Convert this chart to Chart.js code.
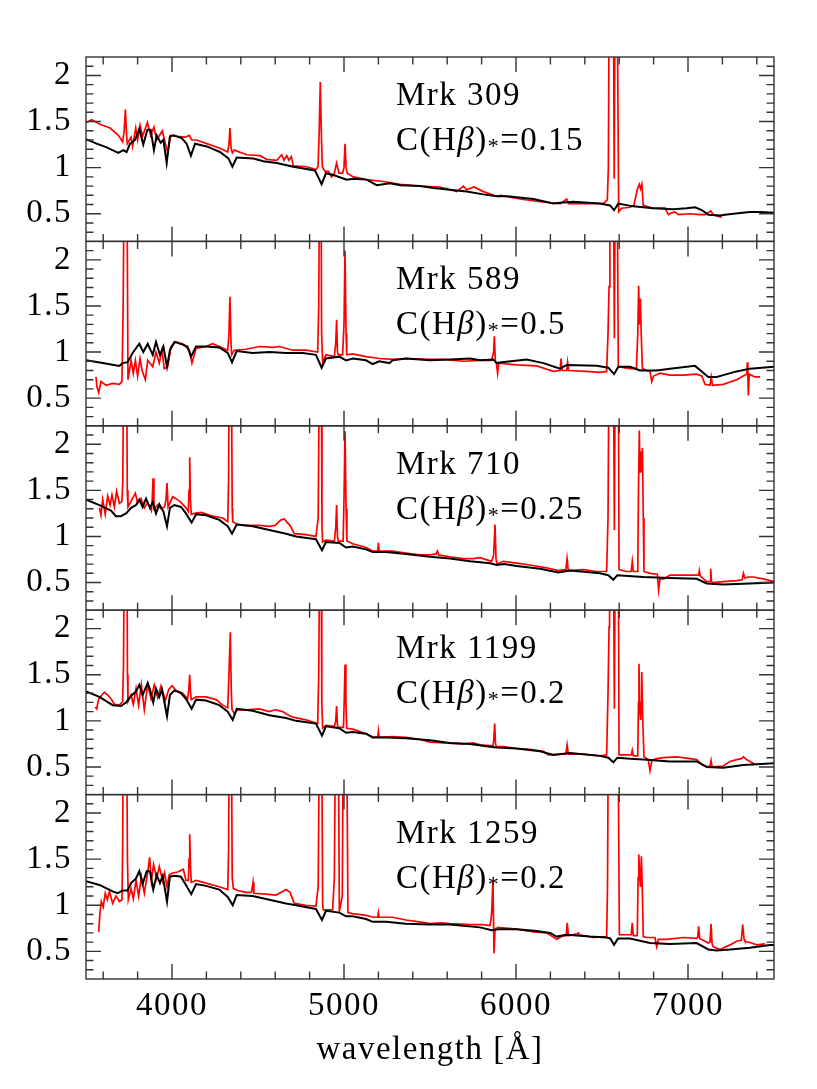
<!DOCTYPE html>
<html>
<head>
<meta charset="utf-8">
<script src="https://cdn.jsdelivr.net/npm/chart.js@4.4.0/dist/chart.umd.min.js"></script>
<style>
  html, body { margin: 0; padding: 0; background: #fff; }
  canvas { display: block; }
</style>
</head>
<body>
<canvas id="spectra" width="817" height="1089"></canvas>
<script>
// panel names and the extinction of the fitted population
const galaxies = ['Mrk 309', 'Mrk 589', 'Mrk 710', 'Mrk 1199', 'Mrk 1259'];
const extinction = ['0.15', '0.5', '0.25', '0.2', '0.2'];

const xTickValues = [4000, 5000, 6000, 7000];
const yTickValues = [0.5, 1, 1.5, 2];

// [wavelength, flux]; 3 = line runs off the top
const obs309 = [[3504,1.49],[3533,1.52],[3581,1.47],[3640,1.43],[3688,1.35],[3713,1.28],[3722,1.40],[3729,1.63],[3736,1.35],[3740,1.26],[3762,1.33],[3771,1.23],[3789,1.43],[3800,1.30],[3814,1.46],[3829,1.34],[3857,1.49],[3876,1.35],[3895,1.44],[3911,1.30],[3944,1.40],[3959,1.28],[3975,1.16],[3992,1.35],[4027,1.34],[4076,1.33],[4101,1.35],[4114,1.30],[4143,1.30],[4202,1.26],[4279,1.21],[4324,1.17],[4331,1.25],[4337,1.43],[4343,1.22],[4351,1.16],[4362,1.19],[4434,1.14],[4512,1.13],[4550,1.09],[4609,1.08],[4638,1.14],[4651,1.08],[4667,1.13],[4680,1.08],[4694,1.12],[4705,1.02],[4783,1.01],[4837,0.98],[4849,1.01],[4856,1.40],[4862,1.93],[4868,1.40],[4874,1.01],[4889,0.96],[4909,0.96],[4928,0.90],[4944,0.94],[4957,1.05],[4971,0.94],[4992,0.94],[5000,1.00],[5006,1.26],[5012,1.00],[5019,0.94],[5054,0.90],[5132,0.87],[5229,0.85],[5326,0.82],[5442,0.80],[5558,0.79],[5655,0.74],[5694,0.80],[5713,0.76],[5756,0.79],[5810,0.74],[5888,0.69],[5910,0.70],[6023,0.66],[6140,0.63],[6256,0.61],[6295,0.66],[6305,0.61],[6411,0.61],[6508,0.61],[6531,0.65],[6537,1.00],[6542,3],[6566,3],[6571,0.88],[6576,3],[6588,3],[6597,0.52],[6614,0.56],[6663,0.57],[6685,0.59],[6705,0.76],[6717,0.82],[6724,0.77],[6732,0.82],[6740,0.59],[6798,0.56],[6866,0.56],[6886,0.49],[6905,0.51],[6924,0.52],[6944,0.49],[7012,0.50],[7070,0.49],[7100,0.49],[7132,0.53],[7148,0.49],[7196,0.46]];
const mod309 = [[3500,1.31],[3562,1.26],[3620,1.22],[3688,1.16],[3717,1.19],[3736,1.17],[3756,1.26],[3785,1.30],[3810,1.42],[3833,1.25],[3857,1.41],[3876,1.41],[3895,1.19],[3911,1.35],[3934,1.27],[3950,1.30],[3969,1.05],[3988,1.34],[4008,1.35],[4056,1.32],[4085,1.26],[4110,1.13],[4134,1.26],[4202,1.23],[4279,1.17],[4328,1.10],[4351,1.01],[4376,1.11],[4473,1.10],[4531,1.07],[4609,1.05],[4705,1.01],[4831,0.97],[4870,0.82],[4895,0.94],[4938,0.92],[5016,0.87],[5054,0.88],[5132,0.87],[5190,0.81],[5267,0.83],[5326,0.81],[5442,0.80],[5519,0.78],[5616,0.76],[5713,0.74],[5810,0.71],[5888,0.69],[5950,0.69],[6101,0.66],[6217,0.61],[6260,0.62],[6333,0.63],[6488,0.61],[6547,0.59],[6570,0.54],[6595,0.61],[6682,0.58],[6798,0.56],[6915,0.55],[6992,0.56],[7041,0.57],[7080,0.54],[7118,0.49],[7186,0.48],[7215,0.49],[7264,0.50],[7360,0.52],[7419,0.52],[7500,0.51]];

const obs589 = [[3558,0.73],[3564,0.62],[3574,0.56],[3587,0.68],[3616,0.64],[3655,0.66],[3694,0.65],[3709,0.68],[3716,1.50],[3722,3],[3738,3],[3744,0.70],[3762,0.91],[3775,0.77],[3787,0.91],[3800,0.74],[3814,0.93],[3826,0.80],[3845,0.70],[3859,0.91],[3888,0.84],[3907,1.00],[3926,0.88],[3942,1.02],[3955,0.82],[3975,0.84],[3994,1.06],[4023,1.11],[4062,1.09],[4101,1.02],[4116,0.88],[4140,1.04],[4198,1.06],[4236,1.09],[4275,1.06],[4324,1.02],[4331,1.20],[4337,1.60],[4343,1.10],[4347,0.97],[4362,1.02],[4430,1.03],[4508,1.06],[4585,1.05],[4624,1.06],[4702,1.02],[4779,1.02],[4847,1.00],[4853,1.50],[4858,3],[4866,3],[4870,1.20],[4876,0.88],[4895,0.97],[4944,0.95],[4952,1.10],[4957,1.35],[4962,1.00],[4967,0.97],[4992,0.97],[5000,1.30],[5006,2.10],[5012,1.20],[5016,0.97],[5050,0.98],[5128,0.95],[5205,0.93],[5283,0.92],[5360,0.93],[5500,0.92],[5578,0.92],[5694,0.90],[5791,0.91],[5858,0.91],[5870,1.00],[5874,1.17],[5880,0.90],[5886,0.88],[5893,0.77],[5900,0.88],[6004,0.86],[6120,0.85],[6217,0.79],[6256,0.80],[6262,0.93],[6268,0.80],[6295,0.80],[6300,0.89],[6306,0.80],[6411,0.79],[6488,0.78],[6527,0.79],[6535,1.20],[6541,1.71],[6546,3],[6566,3],[6572,1.15],[6577,3],[6588,3],[6595,0.84],[6663,0.82],[6700,0.82],[6708,1.20],[6713,1.72],[6718,1.30],[6723,1.58],[6728,1.20],[6735,0.82],[6760,0.80],[6779,0.79],[6789,0.68],[6800,0.74],[6837,0.77],[6895,0.75],[6973,0.75],[7050,0.76],[7080,0.74],[7099,0.65],[7128,0.64],[7135,0.73],[7142,0.64],[7205,0.65],[7283,0.70],[7331,0.75],[7342,0.76],[7345,0.89],[7348,0.75],[7351,0.53],[7356,0.76],[7389,0.73],[7419,0.73]];
const mod589 = [[3500,0.91],[3597,0.88],[3694,0.85],[3713,0.88],[3742,0.89],[3771,0.99],[3810,1.09],[3833,1.00],[3859,1.09],[3888,0.97],[3907,1.11],[3930,0.97],[3950,1.06],[3971,0.84],[3988,1.02],[4014,1.11],[4062,1.08],[4090,1.06],[4110,0.95],[4140,1.06],[4198,1.06],[4275,1.05],[4324,0.99],[4349,0.89],[4376,1.01],[4469,0.99],[4566,1.00],[4663,0.99],[4760,0.99],[4837,0.97],[4870,0.83],[4895,0.93],[4973,0.95],[5012,0.91],[5050,0.93],[5128,0.91],[5167,0.87],[5205,0.90],[5264,0.88],[5283,0.91],[5360,0.93],[5500,0.91],[5616,0.92],[5733,0.93],[5791,0.91],[5868,0.92],[5888,0.88],[5917,0.89],[6062,0.92],[6159,0.88],[6256,0.82],[6295,0.86],[6469,0.85],[6537,0.83],[6570,0.76],[6595,0.84],[6663,0.84],[6721,0.80],[6818,0.80],[6895,0.82],[7041,0.85],[7118,0.73],[7167,0.73],[7205,0.75],[7283,0.79],[7360,0.82],[7500,0.84]];

const obs710 = [[3578,1.31],[3587,1.23],[3597,1.40],[3612,1.24],[3626,1.44],[3640,1.34],[3651,1.45],[3665,1.32],[3678,1.49],[3694,1.36],[3709,1.38],[3714,1.60],[3719,3],[3736,3],[3740,1.50],[3744,1.32],[3762,1.38],[3787,1.47],[3800,1.36],[3820,1.41],[3839,1.31],[3859,1.37],[3880,1.28],[3885,1.40],[3890,1.63],[3895,1.30],[3917,1.34],[3936,1.30],[3957,1.32],[3965,1.40],[3971,1.58],[3977,1.32],[4004,1.43],[4023,1.41],[4052,1.37],[4081,1.31],[4095,1.27],[4099,1.50],[4103,1.86],[4107,1.40],[4112,1.24],[4130,1.25],[4169,1.26],[4236,1.22],[4295,1.20],[4324,1.16],[4329,1.60],[4333,3],[4345,3],[4350,1.30],[4353,1.16],[4382,1.13],[4430,1.12],[4508,1.12],[4566,1.11],[4600,1.12],[4634,1.18],[4653,1.19],[4670,1.15],[4686,1.12],[4711,1.03],[4779,1.02],[4837,1.00],[4850,1.20],[4857,3],[4868,3],[4872,1.10],[4876,0.94],[4895,0.96],[4944,0.95],[4952,1.10],[4957,1.34],[4962,1.00],[4967,0.95],[4995,0.95],[5000,1.40],[5006,2.14],[5012,1.30],[5017,0.95],[5050,0.92],[5128,0.88],[5171,0.84],[5196,0.84],[5200,0.93],[5204,0.84],[5283,0.84],[5360,0.82],[5438,0.80],[5500,0.80],[5536,0.81],[5543,0.84],[5550,0.80],[5616,0.78],[5694,0.76],[5752,0.76],[5790,0.77],[5859,0.73],[5870,0.80],[5878,1.13],[5884,0.75],[5890,0.70],[5926,0.73],[6004,0.71],[6081,0.69],[6178,0.66],[6246,0.63],[6290,0.64],[6297,0.76],[6304,0.63],[6391,0.64],[6469,0.62],[6527,0.62],[6535,1.20],[6541,3],[6566,3],[6572,1.07],[6577,3],[6595,3],[6599,0.64],[6643,0.62],[6670,0.62],[6676,0.73],[6682,0.62],[6708,0.62],[6712,1.50],[6717,2.15],[6721,1.70],[6725,1.92],[6730,1.70],[6735,1.96],[6740,1.20],[6744,0.62],[6779,0.60],[6822,0.59],[6829,0.42],[6837,0.54],[6860,0.54],[6895,0.58],[6973,0.58],[7050,0.58],[7062,0.58],[7066,0.63],[7072,0.57],[7109,0.51],[7128,0.51],[7132,0.65],[7137,0.51],[7143,0.50],[7205,0.51],[7283,0.52],[7315,0.53],[7322,0.60],[7330,0.55],[7350,0.56],[7380,0.56],[7438,0.54],[7500,0.51]];
const mod710 = [[3500,1.40],[3578,1.34],[3645,1.28],[3674,1.22],[3703,1.22],[3733,1.25],[3762,1.31],[3791,1.34],[3810,1.40],[3829,1.32],[3849,1.41],[3872,1.31],[3888,1.37],[3907,1.25],[3926,1.35],[3950,1.27],[3971,1.11],[3988,1.31],[4014,1.34],[4052,1.32],[4081,1.25],[4114,1.15],[4140,1.24],[4198,1.23],[4275,1.18],[4324,1.11],[4349,1.03],[4376,1.13],[4469,1.11],[4566,1.07],[4663,1.03],[4721,1.00],[4837,0.97],[4872,0.85],[4895,0.94],[4973,0.93],[5012,0.88],[5050,0.89],[5128,0.86],[5167,0.83],[5244,0.83],[5360,0.81],[5500,0.78],[5616,0.76],[5733,0.73],[5849,0.71],[5888,0.69],[5930,0.70],[6004,0.68],[6140,0.65],[6246,0.61],[6314,0.63],[6488,0.60],[6537,0.58],[6566,0.53],[6589,0.58],[6740,0.56],[6895,0.55],[7050,0.54],[7109,0.49],[7205,0.48],[7360,0.49],[7500,0.50]];

const obs1199 = [[3554,1.15],[3562,1.13],[3574,1.24],[3587,1.27],[3607,1.31],[3626,1.28],[3645,1.24],[3665,1.18],[3694,1.17],[3713,1.21],[3718,1.60],[3723,3],[3738,3],[3741,1.50],[3744,1.21],[3762,1.28],[3775,1.18],[3791,1.35],[3806,1.17],[3822,1.39],[3839,1.12],[3859,1.40],[3878,1.24],[3897,1.39],[3917,1.25],[3936,1.38],[3961,1.22],[3981,1.34],[4000,1.38],[4023,1.33],[4062,1.30],[4091,1.24],[4098,1.35],[4103,1.50],[4108,1.30],[4112,1.23],[4140,1.26],[4198,1.26],[4256,1.23],[4295,1.17],[4324,1.14],[4331,1.50],[4339,1.96],[4345,1.30],[4349,1.12],[4362,1.08],[4382,1.12],[4430,1.12],[4508,1.13],[4566,1.10],[4600,1.12],[4643,1.10],[4670,1.07],[4702,1.04],[4779,1.01],[4847,0.97],[4853,1.50],[4859,3],[4867,3],[4871,1.20],[4876,0.92],[4895,0.95],[4944,0.94],[4952,1.00],[4957,1.16],[4962,0.95],[4967,0.93],[4997,0.93],[5001,1.20],[5006,1.61],[5011,1.20],[5016,0.92],[5050,0.91],[5128,0.86],[5171,0.82],[5196,0.83],[5200,0.89],[5204,0.82],[5283,0.83],[5360,0.82],[5438,0.80],[5500,0.77],[5578,0.76],[5694,0.75],[5752,0.76],[5791,0.74],[5866,0.73],[5871,0.80],[5876,0.97],[5881,0.75],[5886,0.72],[5926,0.72],[6004,0.70],[6081,0.69],[6159,0.67],[6188,0.63],[6256,0.64],[6290,0.64],[6297,0.74],[6304,0.64],[6391,0.64],[6488,0.62],[6527,0.63],[6535,1.30],[6541,2.02],[6544,3],[6566,3],[6572,1.13],[6577,3],[6595,3],[6599,0.63],[6663,0.63],[6670,0.63],[6676,0.68],[6682,0.62],[6708,0.62],[6712,1.20],[6715,1.62],[6720,1.10],[6725,1.01],[6728,1.20],[6731,1.53],[6737,1.00],[6744,0.61],[6769,0.58],[6779,0.46],[6790,0.57],[6818,0.59],[6857,0.60],[6934,0.61],[7012,0.59],[7050,0.58],[7079,0.53],[7109,0.50],[7128,0.51],[7134,0.57],[7140,0.50],[7205,0.51],[7244,0.56],[7283,0.58],[7310,0.59],[7322,0.61],[7340,0.58],[7360,0.56],[7389,0.53]];
const mod1199 = [[3500,1.32],[3578,1.26],[3655,1.17],[3703,1.16],[3733,1.20],[3762,1.27],[3791,1.32],[3810,1.39],[3829,1.28],[3859,1.41],[3872,1.34],[3891,1.20],[3907,1.35],[3926,1.26],[3942,1.34],[3971,1.05],[3988,1.28],[4014,1.33],[4052,1.30],[4081,1.24],[4114,1.13],[4140,1.23],[4198,1.22],[4275,1.17],[4324,1.10],[4353,1.01],[4376,1.13],[4469,1.11],[4566,1.06],[4663,1.03],[4721,1.00],[4837,0.97],[4872,0.84],[4895,0.94],[4973,0.92],[5012,0.87],[5050,0.88],[5128,0.86],[5167,0.82],[5244,0.82],[5360,0.81],[5500,0.79],[5616,0.76],[5733,0.75],[5849,0.72],[5888,0.71],[6004,0.70],[6140,0.67],[6217,0.63],[6314,0.65],[6488,0.62],[6537,0.60],[6566,0.55],[6589,0.60],[6663,0.59],[6740,0.58],[6895,0.56],[7050,0.56],[7109,0.50],[7205,0.49],[7322,0.52],[7399,0.53],[7500,0.54]];

const obs1259 = [[3574,0.71],[3581,0.91],[3589,1.04],[3600,0.98],[3612,1.13],[3624,1.06],[3636,1.15],[3655,1.02],[3674,1.10],[3694,1.04],[3709,1.06],[3713,1.60],[3717,3],[3736,3],[3741,1.50],[3746,1.06],[3762,1.18],[3775,1.07],[3791,1.27],[3806,1.10],[3822,1.31],[3839,1.13],[3859,1.36],[3870,1.52],[3880,1.26],[3893,1.44],[3911,1.29],[3926,1.42],[3946,1.26],[3957,1.35],[3971,1.20],[3984,1.33],[4004,1.35],[4033,1.36],[4066,1.39],[4081,1.27],[4095,1.27],[4099,1.50],[4103,1.77],[4108,1.40],[4112,1.25],[4140,1.27],[4198,1.24],[4275,1.20],[4324,1.17],[4329,1.60],[4333,3],[4345,3],[4350,1.30],[4357,1.18],[4382,1.16],[4430,1.14],[4462,1.14],[4467,1.20],[4471,1.25],[4476,1.13],[4547,1.12],[4605,1.11],[4643,1.15],[4663,1.17],[4686,1.14],[4711,1.02],[4779,1.00],[4837,0.99],[4850,1.20],[4857,3],[4870,3],[4876,1.00],[4880,0.95],[4934,0.95],[4944,1.30],[4951,3],[4967,3],[4973,0.93],[4990,1.10],[4996,3],[5015,3],[5023,0.92],[5050,0.91],[5128,0.89],[5171,0.87],[5196,0.87],[5200,0.92],[5204,0.87],[5283,0.87],[5360,0.84],[5438,0.82],[5500,0.80],[5560,0.81],[5616,0.80],[5733,0.79],[5810,0.79],[5849,0.78],[5858,0.90],[5866,1.28],[5872,0.48],[5878,0.74],[5895,0.76],[6004,0.74],[6101,0.71],[6178,0.70],[6236,0.63],[6275,0.67],[6292,0.67],[6298,0.81],[6304,0.67],[6356,0.69],[6362,0.70],[6368,0.68],[6449,0.65],[6527,0.66],[6532,1.20],[6537,3],[6593,3],[6601,0.68],[6663,0.68],[6670,0.68],[6676,0.81],[6682,0.67],[6705,0.67],[6710,1.30],[6714,1.55],[6719,1.30],[6724,1.20],[6729,1.53],[6734,1.20],[6740,0.66],[6760,0.65],[6808,0.65],[6818,0.55],[6828,0.63],[6876,0.63],[6973,0.65],[7050,0.64],[7056,0.65],[7062,0.77],[7068,0.64],[7118,0.59],[7128,0.60],[7134,0.80],[7140,0.58],[7147,0.55],[7186,0.52],[7244,0.57],[7283,0.61],[7310,0.62],[7318,0.79],[7326,0.63],[7331,0.61],[7370,0.59],[7399,0.57],[7448,0.58]];
const mod1259 = [[3500,1.26],[3578,1.22],[3655,1.15],[3684,1.13],[3713,1.16],[3742,1.16],[3762,1.24],[3791,1.29],[3810,1.37],[3829,1.23],[3853,1.37],[3872,1.37],[3891,1.17],[3911,1.33],[3930,1.24],[3946,1.32],[3971,1.04],[3988,1.31],[4014,1.32],[4052,1.31],[4081,1.22],[4112,1.12],[4140,1.23],[4198,1.21],[4275,1.17],[4324,1.09],[4353,1.00],[4376,1.11],[4469,1.10],[4566,1.06],[4663,1.02],[4721,1.00],[4837,0.96],[4872,0.84],[4895,0.94],[4973,0.92],[5012,0.88],[5050,0.88],[5128,0.85],[5167,0.82],[5244,0.82],[5360,0.80],[5500,0.79],[5616,0.79],[5791,0.76],[5859,0.73],[5900,0.74],[6004,0.74],[6120,0.72],[6198,0.70],[6236,0.66],[6295,0.68],[6430,0.66],[6527,0.65],[6548,0.64],[6570,0.57],[6593,0.64],[6663,0.64],[6779,0.59],[6895,0.58],[7050,0.59],[7118,0.52],[7167,0.51],[7244,0.52],[7360,0.54],[7477,0.57],[7500,0.57]];

const observed = [obs309, obs589, obs710, obs1199, obs1259];
const models = [mod309, mod589, mod710, mod1199, mod1259];

const serif = '"Liberation Serif", "DejaVu Serif", serif';
const toPoints = arr => arr.map(([x, y]) => ({ x, y }));

const datasets = [];
galaxies.forEach((name, i) => {
  datasets.push({
    label: name + ' model', data: toPoints(models[i]), yAxisID: 'y' + i,
    borderColor: '#000', borderWidth: 2, order: 0
  });
  datasets.push({
    label: name, data: toPoints(observed[i]), yAxisID: 'y' + i,
    borderColor: '#ff0000', borderWidth: 1.7, order: 1
  });
});

const scales = {
  x: {
    type: 'linear', position: 'bottom', min: 3500, max: 7500,
    grid: { display: false, drawTicks: false }, border: { display: false },
    afterBuildTicks: axis => { axis.ticks = xTickValues.map(v => ({ value: v })); },
    afterFit: axis => { axis.height = 110; },
    ticks: { color: '#000', font: { family: serif, size: 33 }, padding: 8, maxRotation: 0, autoSkip: false, callback: v => String(v) },
    title: { display: true, text: 'wavelength [Å]', color: '#000', font: { family: serif, size: 33 }, padding: { top: 0, bottom: 19 } }
  }
};
galaxies.forEach((name, i) => {
  // stacked panels: the highest weight ends up on top
  scales['y' + i] = {
    type: 'linear', position: 'left', stack: 'panels', stackWeight: 1, weight: galaxies.length - i,
    min: 0.2, max: 2.2,
    grid: { display: false, drawTicks: false }, border: { display: false },
    afterBuildTicks: axis => { axis.ticks = yTickValues.map(v => ({ value: v })); },
    afterFit: axis => { axis.width = 86; },
    ticks: { color: '#000', font: { family: serif, size: 33 }, padding: 14, autoSkip: false, callback: v => String(v) }
  };
});

// box, inward ticks and the labels of each panel
const panelFrames = {
  id: 'panelFrames',
  beforeDraw(chart) {
    chart.ctx.letterSpacing = '1.5px';
  },
  afterDatasetsDraw(chart) {
    const { ctx, scales } = chart;
    const xs = scales.x;
    ctx.save();
    ctx.strokeStyle = '#333';
    ctx.lineWidth = 1.4;
    galaxies.forEach((name, i) => {
      const ys = scales['y' + i];
      ctx.strokeRect(xs.left, ys.top, xs.right - xs.left, ys.bottom - ys.top);
      ctx.beginPath();
      for (let w = 3600; w < 7500; w += 200) {
        const px = xs.getPixelForValue(w);
        const len = w % 1000 === 0 ? 15 : 7.5;
        ctx.moveTo(px, ys.bottom); ctx.lineTo(px, ys.bottom - len);
        ctx.moveTo(px, ys.top); ctx.lineTo(px, ys.top + len);
      }
      for (let k = 3; k <= 21; k++) {
        const py = ys.getPixelForValue(k / 10);
        const len = k % 5 === 0 ? 15 : 7.5;
        ctx.moveTo(xs.left, py); ctx.lineTo(xs.left + len, py);
        ctx.moveTo(xs.right, py); ctx.lineTo(xs.right - len, py);
      }
      ctx.stroke();

      ctx.fillStyle = '#000';
      ctx.textAlign = 'left';
      ctx.textBaseline = 'alphabetic';
      const tx = 396;
      ctx.font = '33px ' + serif;
      ctx.fillText(name, tx, ys.top + 48);
      const base = ys.top + 93;
      let x = tx;
      const put = (text, font, dy) => {
        ctx.font = font;
        ctx.fillText(text, x, base + dy);
        x += ctx.measureText(text).width;
      };
      put('C(H', '33px ' + serif, 0);
      put('β', 'italic 33px ' + serif, 0);
      put(')', '33px ' + serif, 0);
      put('*', '22px ' + serif, 3);
      put('=' + extinction[i], '33px ' + serif, 0);
    });
    ctx.restore();
  }
};

new Chart(document.getElementById('spectra'), {
  type: 'scatter',
  data: { datasets },
  options: {
    responsive: false,
    animation: false,
    showLine: true,
    elements: { point: { radius: 0 }, line: { tension: 0 } },
    layout: { padding: { top: 57, right: 43, left: 0, bottom: 0 } },
    plugins: { legend: { display: false }, tooltip: { enabled: false } },
    scales
  },
  plugins: [panelFrames]
});
</script>
</body>
</html>
